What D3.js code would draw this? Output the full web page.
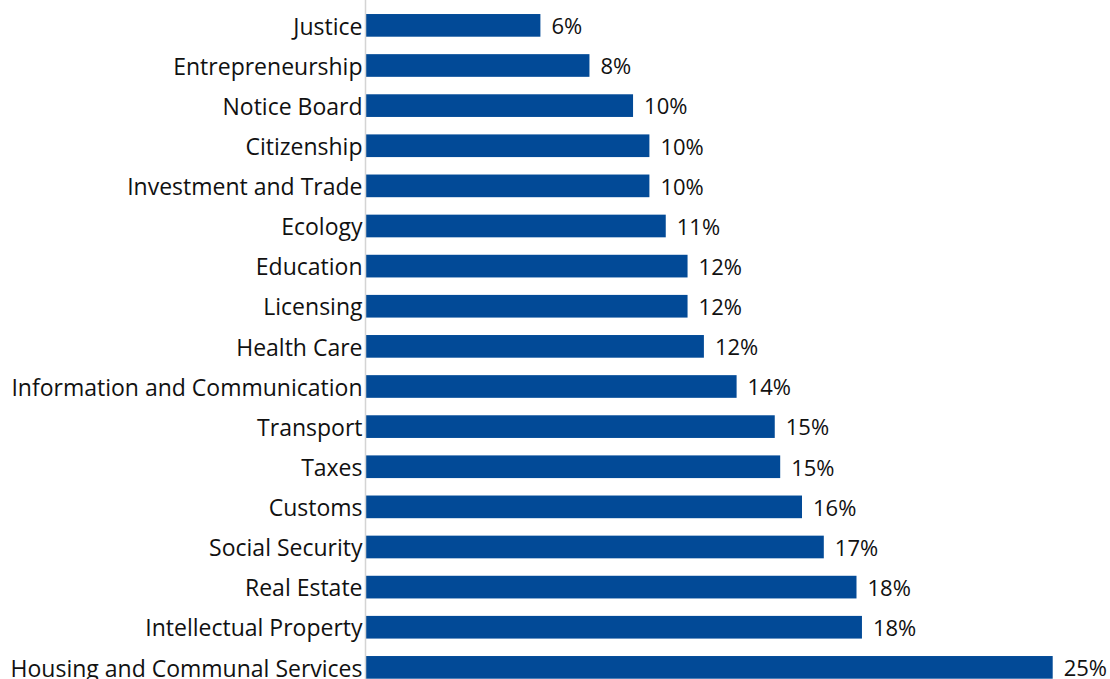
<!DOCTYPE html>
<html>
<head>
<meta charset="utf-8">
<script src="https://cdn.jsdelivr.net/npm/d3@7/dist/d3.min.js"></script>
<style>
  html, body { margin: 0; padding: 0; background: #fff; }
  svg { display: block; }
  text { font-family: "Open Sans", "Noto Sans", sans-serif; fill: #111; }
</style>
</head>
<body>
<svg id="chart" width="1110" height="679"></svg>
<script>
// Share of requests by service area, percent
const categories = [
  "Justice", "Entrepreneurship", "Notice Board", "Citizenship",
  "Investment and Trade", "Ecology", "Education", "Licensing",
  "Health Care", "Information and Communication", "Transport", "Taxes",
  "Customs", "Social Security", "Real Estate", "Intellectual Property",
  "Housing and Communal Services"
];
const values = [
  6.4, 8.2, 9.8, 10.4,
  10.4, 11.0, 11.8, 11.8,
  12.4, 13.6, 15.0, 15.2,
  16.0, 16.8, 18.0, 18.2,
  25.2
];

const data = categories.map((c, i) => ({ name: c, value: values[i] }));

const svg = d3.select("#chart");
const axisX = 365.5;

const x = d3.scaleLinear()
  .domain([0, 27])
  .range([366, 366 + 27 * 27.25]);

const y = d3.scaleBand()
  .domain(categories)
  .range([5.3, 5.3 + categories.length * 40.125])
  .paddingInner(0.435)
  .paddingOuter(0.2175);

const fmt = v => d3.format(".0f")(v) + "%";

// bars
svg.append("g")
  .selectAll("rect")
  .data(data)
  .join("rect")
  .attr("x", x(0))
  .attr("y", d => y(d.name))
  .attr("width", d => x(d.value) - x(0))
  .attr("height", y.bandwidth())
  .attr("fill", "#024A97");

// category axis
const yAxis = d3.axisLeft(y).tickSize(0).tickPadding(3);
const gy = svg.append("g")
  .attr("transform", `translate(${axisX},0)`)
  .call(yAxis);
gy.select(".domain").remove();
gy.selectAll("text")
  .attr("dy", "0.4em")
  .style("font-size", "23px")
  .style("font-family", "\"Open Sans\", sans-serif")
  .attr("fill", "#111");

svg.append("line")
  .attr("x1", axisX).attr("x2", axisX)
  .attr("y1", 0).attr("y2", 679)
  .attr("stroke", "#d4d4d4")
  .attr("stroke-width", 1.5);

// value labels
svg.append("g")
  .selectAll("text")
  .data(data)
  .join("text")
  .attr("x", d => x(d.value) + 11)
  .attr("y", d => y(d.name) + y.bandwidth() / 2)
  .attr("dy", "0.4em")
  .style("font-size", "22px")
  .text(d => fmt(d.value));
</script>
</body>
</html>
